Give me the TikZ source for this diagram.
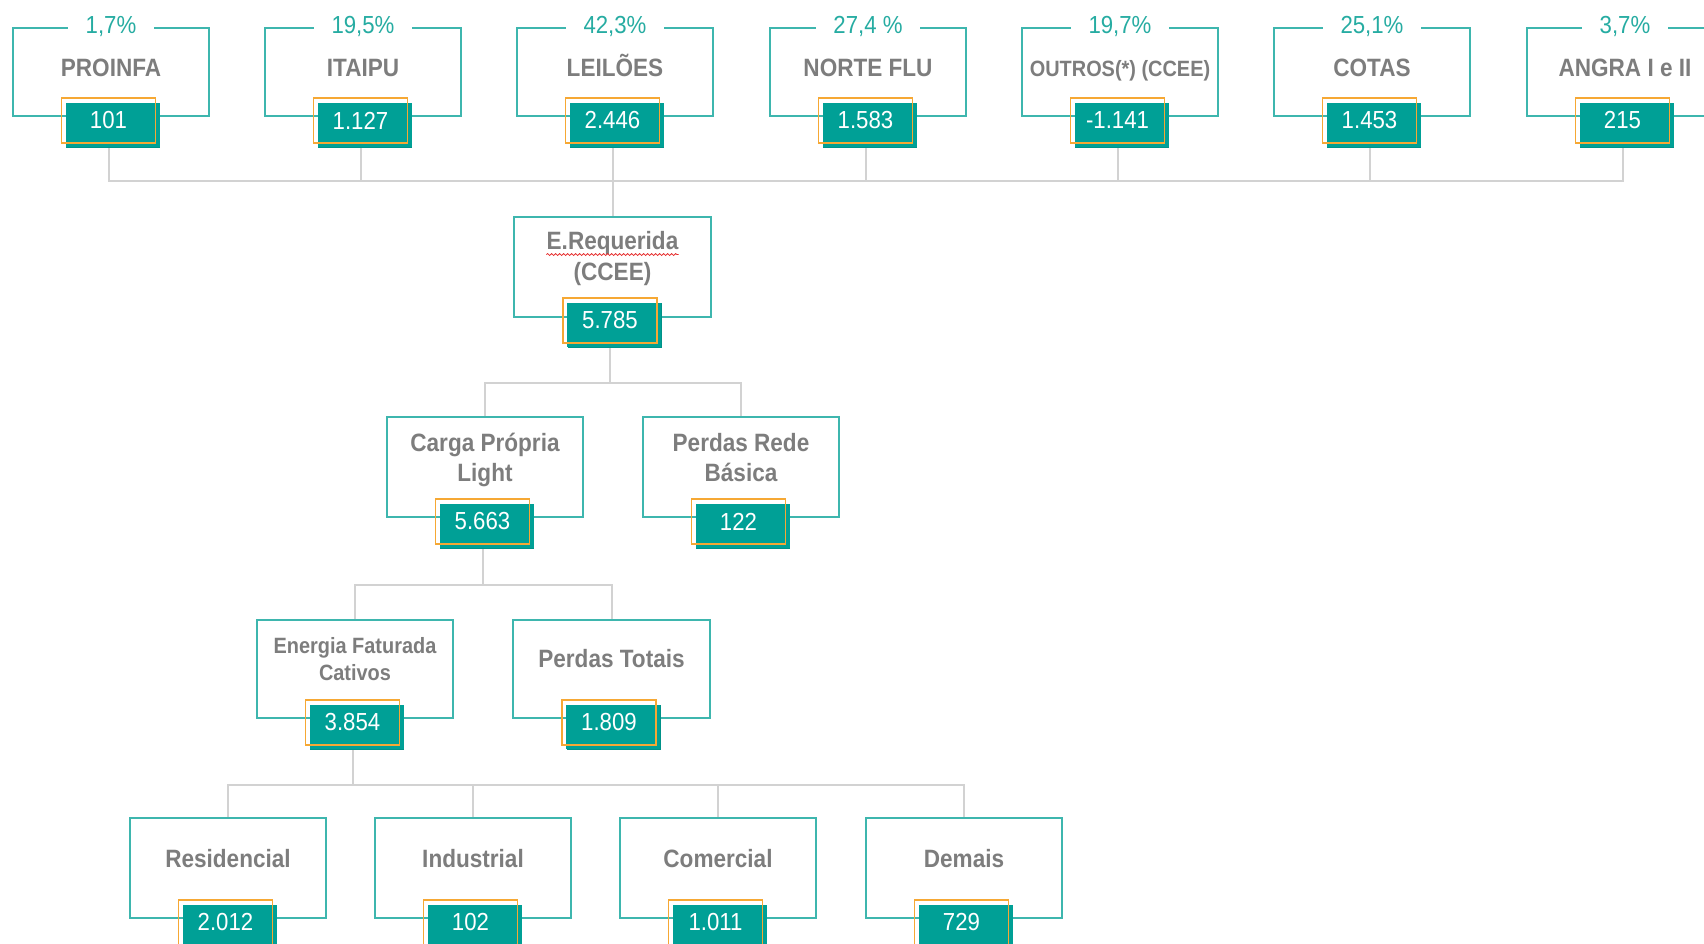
\documentclass[tikz,border=0pt]{standalone}
\usepackage{fontspec}
\setmainfont{Liberation Sans}[FakeStretch=0.9]
\usetikzlibrary{shadows,backgrounds,decorations.pathmorphing}

\definecolor{boxc}{RGB}{62,182,174}
\definecolor{pctc}{RGB}{38,172,162}
\definecolor{valc}{RGB}{0,160,150}
\definecolor{valdark}{RGB}{0,146,136}
\definecolor{orangec}{RGB}{246,168,52}
\definecolor{txtgray}{RGB}{125,125,125}
\definecolor{conngray}{RGB}{210,210,210}
\definecolor{spellred}{RGB}{230,40,40}

\tikzset{
  unitbox/.style={draw=boxc, line width=1.5pt, minimum width=147.5pt, inner sep=0pt},
  title/.style={anchor=base, inner sep=0pt, text=txtgray,
    font=\bfseries\fontsize{18.8pt}{22pt}\selectfont},
  titlesmall/.style={title, font=\bfseries\fontsize{16.6pt}{20pt}\selectfont},
  pct/.style={anchor=base, fill=white, text=pctc, inner xsep=13pt, inner ysep=1.5pt,
    font=\fontsize{18.5pt}{22pt}\selectfont},
  valbox/.style={draw=orangec, line width=1.1pt, minimum width=70.5pt, minimum height=33.5pt,
    inner sep=0pt, text=white, font=\fontsize{18.5pt}{22pt}\selectfont,
    general shadow={fill=valdark, shadow xshift=3.7pt, shadow yshift=-3.9pt},
    general shadow={fill=valc, shadow xshift=3.1pt, shadow yshift=-3.3pt}},
  conn/.style={draw=conngray, line width=1.5pt},
}

\begin{document}
\begin{tikzpicture}[x=0.75pt, y=-0.75pt]
\useasboundingbox (0,0) rectangle (1704,944);
\begin{scope}[on background layer]
  \fill[white] (0,0) rectangle (1704,944);
\end{scope}
\clip (0,0) rectangle (1704,944);

% ---- supply sources ----
\node[unitbox, minimum height=66pt] (proinfa) at (111,72) {};
\node[pct] (proinfa-p) at (111,34) {1,7\%};
\node[title] (proinfa-t) at (111,77) {PROINFA};
\node[valbox] (proinfa-v) at (108.5,120.5) {101};

\node[unitbox, minimum height=66pt] (itaipu) at (363,72) {};
\node[pct] (itaipu-p) at (363,34) {19,5\%};
\node[title] (itaipu-t) at (363,77) {ITAIPU};
\node[valbox] (itaipu-v) at (360.5,120.5) {1.127};

\node[unitbox, minimum height=66pt] (leiloes) at (615,72) {};
\node[pct] (leiloes-p) at (615,34) {42,3\%};
\node[title] (leiloes-t) at (615,77) {LEILÕES};
\node[valbox] (leiloes-v) at (612.5,120.5) {2.446};

\node[unitbox, minimum height=66pt] (nortflu) at (868,72) {};
\node[pct] (nortflu-p) at (868,34) {27,4 \%};
\node[title] (nortflu-t) at (868,77) {NORTE FLU};
\node[valbox] (nortflu-v) at (865.5,120.5) {1.583};

\node[unitbox, minimum height=66pt] (outros) at (1120,72) {};
\node[pct] (outros-p) at (1120,34) {19,7\%};
\node[titlesmall] (outros-t) at (1120,77) {OUTROS(*) (CCEE)};
\node[valbox] (outros-v) at (1117.5,120.5) {-1.141};

\node[unitbox, minimum height=66pt] (cotas) at (1372,72) {};
\node[pct] (cotas-p) at (1372,34) {25,1\%};
\node[title] (cotas-t) at (1372,77) {COTAS};
\node[valbox] (cotas-v) at (1369.5,120.5) {1.453};

\node[unitbox, minimum height=66pt] (angra) at (1625,72) {};
\node[pct] (angra-p) at (1625,34) {3,7\%};
\node[title] (angra-t) at (1625,77) {ANGRA I e II};
\node[valbox] (angra-v) at (1622.5,120.5) {215};

% ---- required energy ----
\node[unitbox, minimum height=75pt] (ereq) at (612.5,267) {};
\node[title] (ereq-t1) at (612.5,250) {E.Requerida};
\node[title] (ereq-t2) at (612.5,281) {(CCEE)};
\node[valbox] (ereq-v) at (610,320.5) {5.785};
\draw[spellred, line width=0.6pt, decorate,
      decoration={snake, amplitude=0.7pt, segment length=3pt}]
  ([yshift=-3.4pt]ereq-t1.base west) -- ([yshift=-3.4pt]ereq-t1.base east);

% ---- own load and basic network losses ----
\node[unitbox, minimum height=75pt] (carga) at (485,467) {};
\node[title] (carga-t1) at (485,452) {Carga Própria};
\node[title] (carga-t2) at (485,482) {Light};
\node[valbox] (carga-v) at (482.5,521.5) {5.663};

\node[unitbox, minimum height=75pt] (perdasrb) at (741,467) {};
\node[title] (perdasrb-t1) at (741,452) {Perdas Rede};
\node[title] (perdasrb-t2) at (741,482) {Básica};
\node[valbox] (perdasrb-v) at (738.5,521.5) {122};

% ---- billed energy and total losses ----
\node[unitbox, minimum height=73.5pt] (energia) at (355,669) {};
\node[titlesmall] (energia-t1) at (355,654) {Energia Faturada};
\node[titlesmall] (energia-t2) at (355,681) {Cativos};
\node[valbox] (energia-v) at (352.5,722.5) {3.854};

\node[unitbox, minimum height=73.5pt] (perdast) at (611.5,669) {};
\node[title] (perdast-t) at (611.5,668) {Perdas Totais};
\node[valbox] (perdast-v) at (609,722.5) {1.809};

% ---- consumer classes ----
\node[unitbox, minimum height=75pt] (resid) at (228,868) {};
\node[title] (resid-t) at (228,867) {Residencial};
\node[valbox] (resid-v) at (225.5,922.5) {2.012};

\node[unitbox, minimum height=75pt] (indus) at (473,868) {};
\node[title] (indus-t) at (473,867) {Industrial};
\node[valbox] (indus-v) at (470.5,922.5) {102};

\node[unitbox, minimum height=75pt] (comerc) at (718,868) {};
\node[title] (comerc-t) at (718,867) {Comercial};
\node[valbox] (comerc-v) at (715.5,922.5) {1.011};

\node[unitbox, minimum height=75pt] (demais) at (964,868) {};
\node[title] (demais-t) at (964,867) {Demais};
\node[valbox] (demais-v) at (961.5,922.5) {729};

% ---- tree connectors ----
\begin{scope}[on background layer]
  \coordinate (bus1) at (ereq.north |- 0,181);
  \foreach \src in {proinfa,itaipu,leiloes,nortflu,outros,cotas,angra}
    \draw[conn] (\src-v.south) |- (bus1);
  \draw[conn] (bus1) -- (ereq.north);

  \coordinate (bus2) at (ereq-v.south |- 0,383);
  \draw[conn] (ereq-v.south) -- (bus2);
  \draw[conn] (bus2) -| (carga.north);
  \draw[conn] (bus2) -| (perdasrb.north);

  \coordinate (bus3) at (carga-v.south |- 0,585);
  \draw[conn] (carga-v.south) -- (bus3);
  \draw[conn] (bus3) -| (energia.north);
  \draw[conn] (bus3) -| (perdast.north);

  \coordinate (bus4) at (energia-v.south |- 0,785);
  \draw[conn] (energia-v.south) -- (bus4);
  \foreach \dst in {resid,indus,comerc,demais}
    \draw[conn] (bus4) -| (\dst.north);
\end{scope}
\end{tikzpicture}
\end{document}
